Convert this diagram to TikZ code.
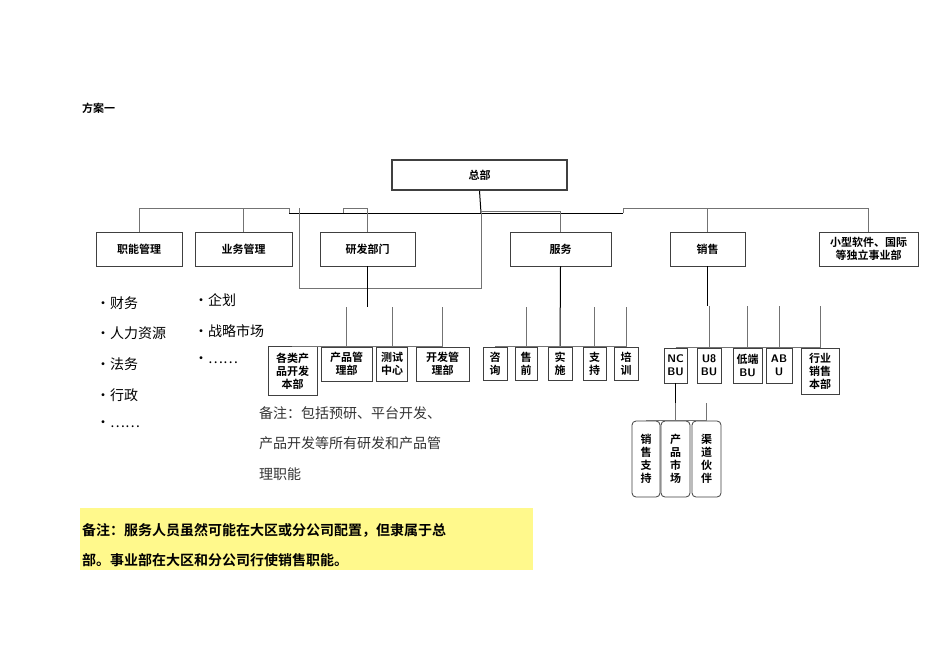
\documentclass[tikz,border=0pt]{standalone}
\usepackage{fontspec}
\newfontfamily\cjk{Noto Sans CJK SC}
\newfontfamily\cjkb{Noto Sans CJK SC Bold}
\begin{document}
\begin{tikzpicture}[x=1pt,y=-1pt,
 bx/.style={draw=black!75,line width=0.8pt,font=\cjkb\fontsize{11}{13}\selectfont,align=center,inner sep=0pt},
 gl/.style={draw=black!55,line width=0.7pt},
 bl/.style={draw=black,line width=1pt},
 txt/.style={font=\cjk\fontsize{14}{16}\selectfont,anchor=west,inner sep=0pt}]
\fill[white] (0,0) rectangle (950,658);
\useasboundingbox (0,0) rectangle (950,658);
\node[font=\cjkb\fontsize{11}{13}\selectfont,anchor=west,inner sep=0pt] (t) at (82,108) {方案一};
\node[bx,line width=1.6pt,minimum width=175,minimum height=30] (zb) at (479.5,175) {总部};
\node[bx,minimum width=86,minimum height=34] (zn) at (139,249) {职能管理};
\node[bx,minimum width=97,minimum height=34] (yw) at (243.5,249) {业务管理};
\node[bx,minimum width=95,minimum height=34] (yf) at (367.5,249) {研发部门};
\node[bx,minimum width=101,minimum height=34] (fw) at (560.5,249) {服务};
\node[bx,minimum width=75,minimum height=34] (xs) at (707.5,249) {销售};
\node[bx,minimum width=99,minimum height=34] (xx) at (868.5,249) {小型软件、国际\\等独立事业部};
% top connectors
\coordinate (c1) at (481,213);
\draw[bl] (zb.south) -- (c1);
\draw[bl] (289,213) -- (623,213);
\draw[gl] (zn.north) |- (289,208) -- (289,213);
\draw[gl] (yw.north) -- (243.5,208);
\draw[gl] (343,213) -- (343,208) -| (yf.north);
\draw[gl] (c1) -- (481,288) -- (299,288) -- (299,208);
\draw[gl] (481,211) -| (fw.north);
\draw[gl] (623,213) -- (623,208) -| (xx.north);
\draw[gl] (xs.north) -- (707.5,208);
% bullets
\foreach \t/\y in {财务/303,人力资源/333,法务/364,行政/395,……/424}
 \node[txt] at (96,\y) {\textbullet\t};
\foreach \t/\y in {企划/300,战略市场/331,……/360}
 \node[txt] at (194,\y) {\textbullet\t};
% R&D
\node[bx,minimum width=49,minimum height=49] (a1) at (292.5,371) {各类产\\品开发\\本部};
\node[bx,minimum width=51,minimum height=34] (a2) at (346.5,364) {产品管\\理部};
\node[bx,minimum width=31,minimum height=34] (a3) at (392,364) {测试\\中心};
\node[bx,minimum width=53,minimum height=34] (a4) at (442.5,364) {开发管\\理部};
\draw[bl] (yf.south) -- (367.5,307);
\draw[gl] (a1.north) |- (a4.north); \draw[gl] (a4.north) -- (442.5,307);
\draw[gl] (a2.north) -- (346.5,307); \draw[gl] (a3.north) -- (392,307);
% service
\node[bx,minimum width=24,minimum height=33] (s1) at (495,363.5) {咨\\询};
\node[bx,minimum width=22,minimum height=33] (s2) at (526,363.5) {售\\前};
\node[bx,minimum width=24,minimum height=33] (s3) at (560,363.5) {实\\施};
\node[bx,minimum width=23,minimum height=33] (s4) at (594.5,363.5) {支\\持};
\node[bx,minimum width=24,minimum height=33] (s5) at (626,363.5) {培\\训};
\draw[bl] (fw.south) -- (s3.north);
\draw[gl] (s1.north) |- (s5.north); \draw[gl] (s5.north) -- (626,307);
\draw[gl] (s2.north) -- (526,307); \draw[gl] (s4.north) -- (594.5,307);
% sales
\node[bx,font=\sffamily\bfseries\fontsize{11}{13}\selectfont,minimum width=23,minimum height=35] (b1) at (675.5,365.5) {NC\\BU};
\node[bx,font=\sffamily\bfseries\fontsize{11}{13}\selectfont,minimum width=24,minimum height=35] (b2) at (709,365.5) {U8\\BU};
\node[bx,minimum width=29,minimum height=35] (b3) at (747.5,365.5) {低端\\\sffamily\bfseries BU};
\node[bx,font=\sffamily\bfseries\fontsize{11}{13}\selectfont,minimum width=26,minimum height=35] (b4) at (779,365.5) {AB\\U};
\node[bx,minimum width=38,minimum height=46] (b5) at (820,371) {行业\\销售\\本部};
\draw[bl] (xs.south) -- (707.5,306);
\draw[gl] (b1.north) |- (b5.north); \draw[gl] (b5.north) -- (820,306);
\draw[gl] (b2.north) -- (709,306); \draw[gl] (b3.north) -- (747.5,306); \draw[gl] (b4.north) -- (779,306);
\node[bx,rounded corners=4pt,minimum width=28,minimum height=76] (d1) at (646,459) {销\\售\\支\\持};
\node[bx,rounded corners=4pt,minimum width=29,minimum height=76] (d2) at (675.5,459) {产\\品\\市\\场};
\node[bx,rounded corners=4pt,minimum width=29,minimum height=76] (d3) at (706.5,459) {渠\\道\\伙\\伴};
\draw[bl] (b1.south) -- (675.5,403);
\draw[gl] (d1.north) |- (d3.north); \draw[gl] (d3.north) -- (706.5,403);
\draw[gl] (d2.north) -- (675.5,403);
% notes
\node[txt,text=black!80] at (259,413) {备注：包括预研、平台开发、};
\node[txt,text=black!80] at (259,443) {产品开发等所有研发和产品管};
\node[txt,text=black!80] at (259,474) {理职能};
\fill[yellow!45] (80,508) rectangle (533,570);
\node[txt,font=\cjkb\fontsize{14}{16}\selectfont] at (82,530) {备注：服务人员虽然可能在大区或分公司配置，但隶属于总};
\node[txt,font=\cjkb\fontsize{14}{16}\selectfont] at (82,560) {部。事业部在大区和分公司行使销售职能。};
\end{tikzpicture}
\end{document}
